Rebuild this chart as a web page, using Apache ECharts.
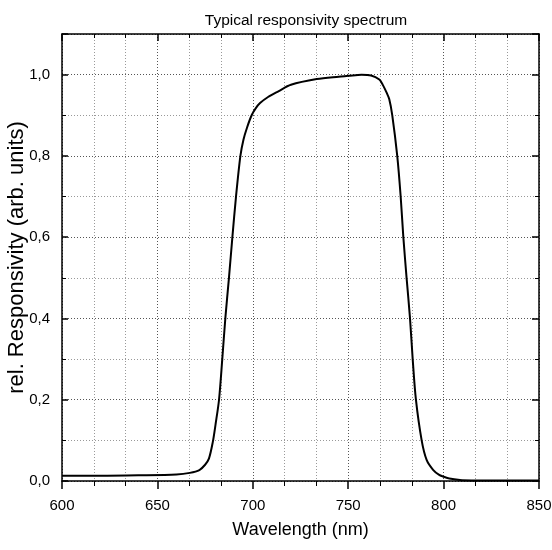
<!DOCTYPE html>
<html><head><meta charset="utf-8">
<script src="https://cdn.jsdelivr.net/npm/echarts@6/dist/echarts.min.js"></script>
<style>html,body{margin:0;padding:0;background:#fff}#c{width:552px;height:550px}</style>
</head><body><div id="c"></div>
<script>
const titleText = 'Typical responsivity spectrum';
const xName = 'Wavelength (nm)';
const yName = 'rel. Responsivity (arb. units)';
const wavelength = [600, 620, 640, 660, 667, 672, 675, 677, 679, 680.5, 682.3, 684, 685.6, 687.5, 689.3, 691.2, 693.5, 695.1, 697, 699.4, 701.5, 703.8, 708, 713.4, 720, 733.5, 745, 750, 757, 762, 766.3, 768, 770.2, 771.5, 773.1, 775.7, 777.5, 778.9, 780.6, 782.4, 783.8, 785.5, 788.5, 791.1, 794.6, 797.7, 799.8, 803, 808.6, 815, 830, 850];
const responsivity = [0.013, 0.013, 0.014, 0.016, 0.020, 0.027, 0.040, 0.055, 0.095, 0.14, 0.2, 0.3, 0.4, 0.5, 0.6, 0.7, 0.8, 0.84, 0.87, 0.90, 0.917, 0.93, 0.945, 0.959, 0.975, 0.989, 0.995, 0.997, 1.0, 0.998, 0.988, 0.976, 0.955, 0.94, 0.9, 0.8, 0.7, 0.6, 0.5, 0.4, 0.3, 0.2, 0.1, 0.052, 0.027, 0.015, 0.011, 0.006, 0.0025, 0.0015, 0.001, 0.001];
const FONT = "'Liberation Sans', Arial, sans-serif";
const fmt = v => v.toFixed(1).replace('.', ',');
const chart = echarts.init(document.getElementById('c'), null, {renderer: 'canvas'});
const axisLine = {show: true, onZero: false, lineStyle: {color: '#000', width: 1.5}};
const major = {lineStyle: {type: [1, 2], color: '#555', width: 1}};
const minor = {show: true, lineStyle: {type: [1, 2], color: '#999', width: 1}};
chart.setOption({
  animation: false,
  title: {text: titleText, left: 301, top: 8, textAlign: 'center', textStyle: {fontFamily: FONT, fontSize: 15.5, fontWeight: 'normal', color: '#000'}},
  grid: {left: 62, right: 13, top: 34, bottom: 69, outerBoundsMode: 'none', containLabel: false},
  xAxis: [{
    type: 'value', min: 600, max: 850, interval: 50, position: 'bottom',
    name: xName, nameLocation: 'middle', nameGap: 40, nameMoveOverlap: false,
    nameTextStyle: {fontFamily: FONT, fontSize: 18, color: '#000'},
    axisLine: axisLine,
    axisTick: {show: true, inside: false, length: 8, lineStyle: {color: '#000', width: 1.5}},
    minorTick: {show: true, splitNumber: 3, length: 5, lineStyle: {color: '#000', width: 1}},
    axisLabel: {fontFamily: FONT, fontSize: 15, color: '#000', margin: 17},
    splitLine: Object.assign({show: true}, major),
    minorSplitLine: minor
  }, {
    type: 'value', min: 600, max: 850, interval: 50, position: 'top',
    axisLine: axisLine,
    axisTick: {show: true, inside: true, length: 7, lineStyle: {color: '#000', width: 1.5}},
    minorTick: {show: true, splitNumber: 3, length: 4, lineStyle: {color: '#000', width: 1}},
    axisLabel: {show: false}, splitLine: {show: false}
  }],
  yAxis: [{
    type: 'value', min: 0, max: 1.1, interval: 0.2, position: 'left',
    name: yName, nameLocation: 'middle', nameGap: 34, nameMoveOverlap: false,
    nameTextStyle: {fontFamily: FONT, fontSize: 22, color: '#000'},
    axisLine: axisLine,
    axisTick: {show: true, inside: true, length: 6, lineStyle: {color: '#000', width: 1.5}},
    minorTick: {show: true, splitNumber: 2, length: 4, lineStyle: {color: '#000', width: 1}},
    axisLabel: {fontFamily: FONT, fontSize: 15, color: '#000', margin: 12, formatter: fmt, showMaxLabel: false},
    splitLine: Object.assign({show: true}, major),
    minorSplitLine: minor
  }, {
    type: 'value', min: 0, max: 1.1, interval: 0.2, position: 'right',
    axisLine: axisLine,
    axisTick: {show: true, inside: true, length: 7, lineStyle: {color: '#000', width: 1.5}},
    minorTick: {show: true, splitNumber: 2, length: 4, lineStyle: {color: '#000', width: 1}},
    axisLabel: {show: false}, splitLine: {show: false}
  }],
  series: [{
    type: 'line', xAxisIndex: 0, yAxisIndex: 0,
    data: wavelength.map((w, i) => [w, responsivity[i]]),
    showSymbol: false, smooth: 0.3,
    lineStyle: {color: '#000', width: 2}
  }]
});
</script></body></html>
